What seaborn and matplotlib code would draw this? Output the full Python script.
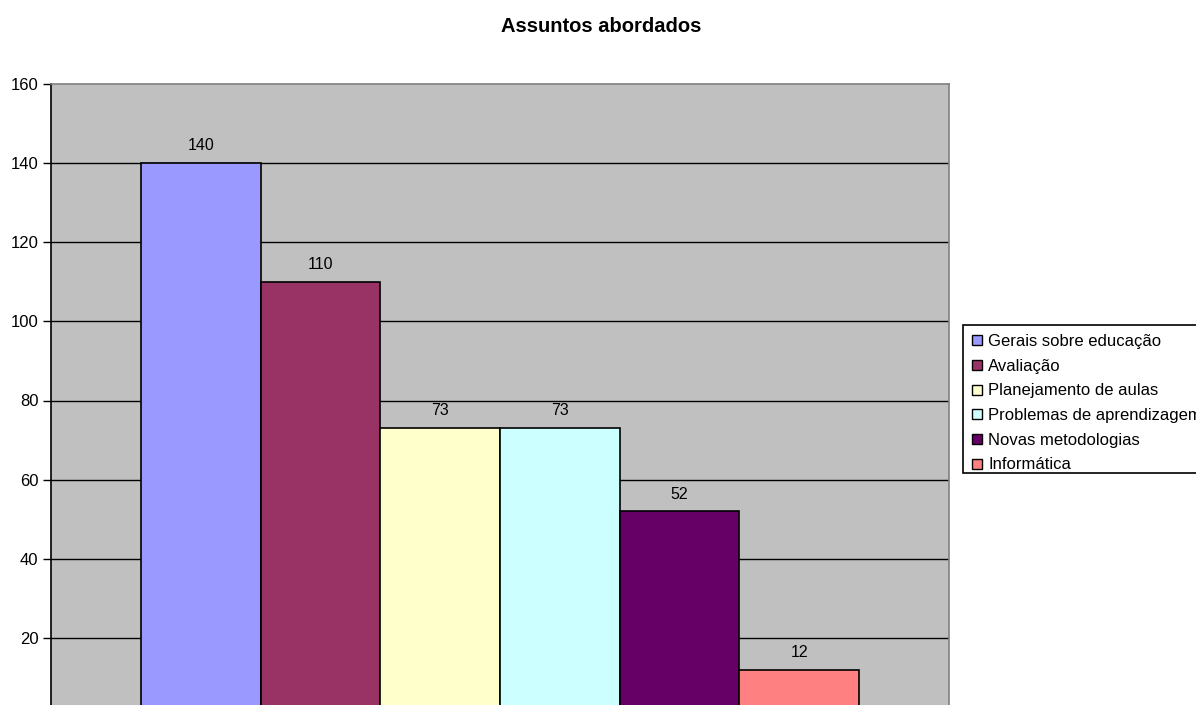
import matplotlib
matplotlib.use("Agg")
import matplotlib.pyplot as plt
from matplotlib.lines import Line2D
from matplotlib.patches import Rectangle
import seaborn as sns
import pandas as pd

# Subjects covered and their counts
assuntos = ["Gerais sobre educação", "Avaliação", "Planejamento de aulas",
            "Problemas de aprendizagem", "Novas metodologias", "Informática"]
valores = [140, 110, 73, 73, 52, 12]
cores = ["#9999FF", "#993366", "#FFFFCC", "#CCFFFF", "#660066", "#FF8080"]
y_ticks = [20, 40, 60, 80, 100, 120, 140, 160]

sns.set_style("white")
plt.rcParams["font.family"] = ["Liberation Sans", "DejaVu Sans"]
plt.rcParams["text.color"] = "black"
plt.rcParams["ytick.color"] = "black"
plt.rcParams["ytick.labelcolor"] = "black"

df = pd.DataFrame({"grupo": ["g"] * len(assuntos), "assunto": assuntos, "valor": valores})

W, H = 1196, 705
fig = plt.figure(figsize=(W / 100, H / 100), dpi=100)
ax = fig.add_axes([51 / W, -12 / H, 898 / W, 633 / H])
ax.set_facecolor("#C0C0C0")

sns.barplot(data=df, x="grupo", y="valor", hue="assunto", hue_order=assuntos,
            palette=cores, width=0.8, gap=0, edgecolor="black", linewidth=1.2,
            saturation=1, legend=False, ax=ax)

for cont in ax.containers:
    ax.bar_label(cont, fmt="%d", padding=7, fontsize=11.5, color="black")

ax.set_xlim(-0.5, 0.5)
ax.set_ylim(0, 160)
ax.set_yticks(y_ticks)
ax.set_yticklabels([str(t) for t in y_ticks], fontsize=12, color="black")
ax.set_xticks([])
ax.set_xlabel("")
ax.set_ylabel("")
ax.tick_params(axis="y", direction="out", length=6, width=1, color="black", pad=3, left=True)

ax.yaxis.grid(True, color="black", linewidth=1)
ax.set_axisbelow(True)
ax.get_ygridlines()[-1].set_visible(False)

for side in ["left", "bottom"]:
    ax.spines[side].set_color("black")
    ax.spines[side].set_linewidth(1.2)
for side in ["top", "right"]:
    ax.spines[side].set_color("#808080")
    ax.spines[side].set_linewidth(1.2)

fig.text(601 / W, 1 - 27 / H, "Assuntos abordados", ha="center", va="center",
         fontsize=14.5, fontweight="bold", color="black")

# Legend box drawn as a figure rectangle so its padding matches the layout
fig.patches.append(Rectangle((963 / W, 1 - 473 / H), 250 / W, 148 / H,
                             transform=fig.transFigure, facecolor="white",
                             edgecolor="black", linewidth=1.2, zorder=1))

handles = [Line2D([], [], marker="s", linestyle="none", markerfacecolor=c,
                  markeredgecolor="black", markeredgewidth=1, markersize=7)
           for c in cores]
leg = fig.legend(handles, assuntos, loc="upper left",
                 bbox_to_anchor=(963 / W, 1 - 325 / H), bbox_transform=fig.transFigure,
                 fontsize=12, frameon=False, borderpad=0.55, labelspacing=0.58,
                 handlelength=0.6, handletextpad=0.35, borderaxespad=0)
leg.set_zorder(2)
for t in leg.get_texts():
    t.set_color("black")

fig.savefig("out.png", dpi=100)
